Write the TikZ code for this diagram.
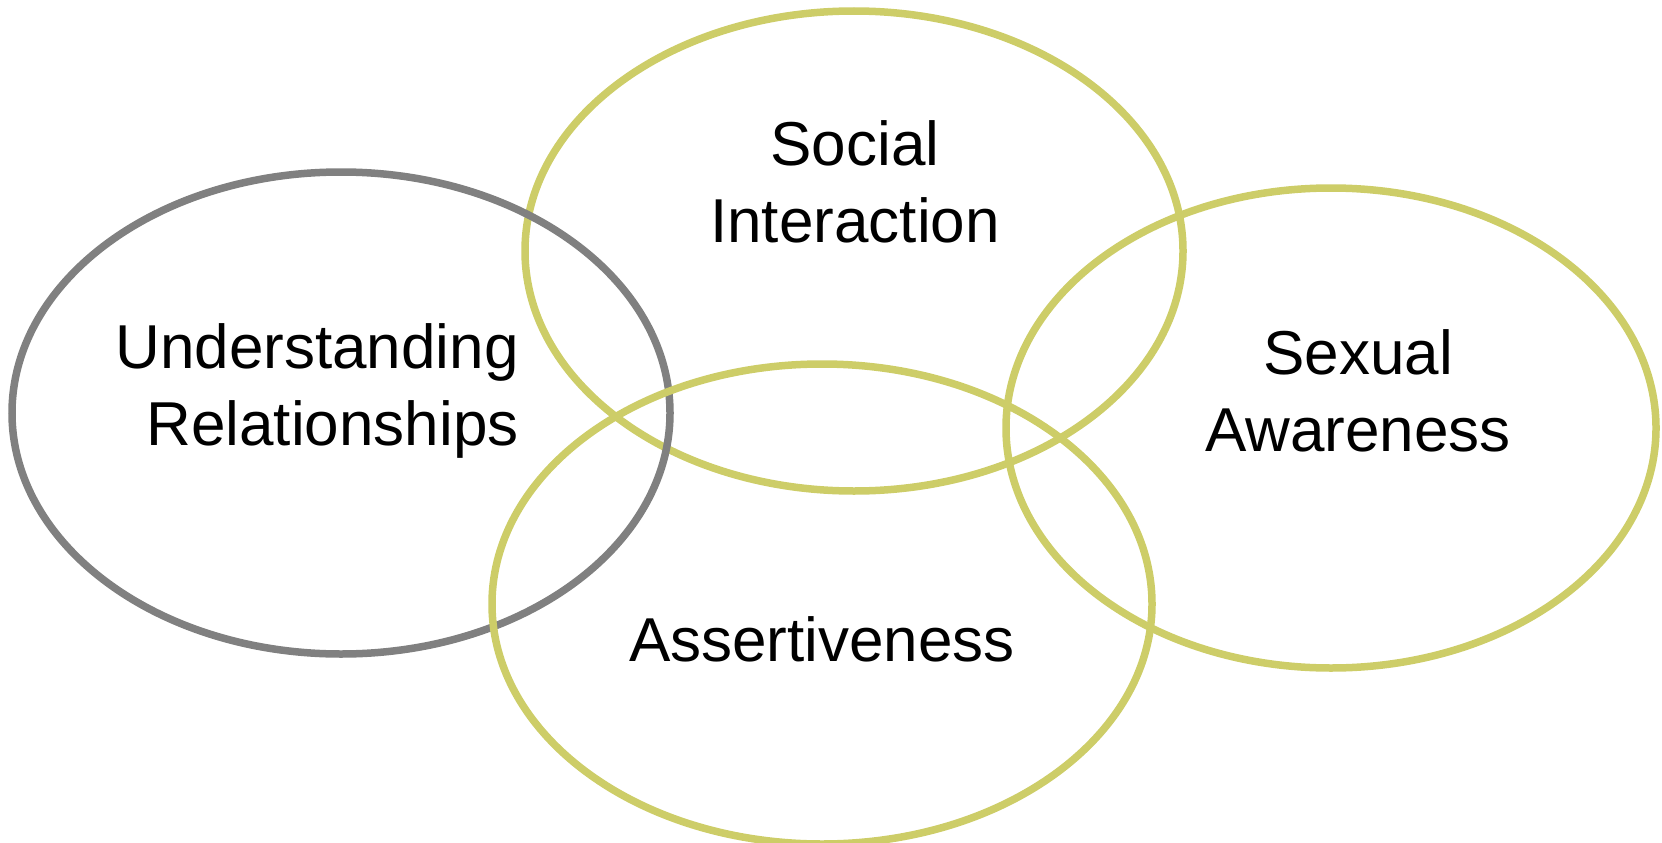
\documentclass[tikz,border=0pt]{standalone}
\usepackage{fontspec}
\setmainfont{Liberation Sans}
\definecolor{olive}{RGB}{205,205,104}
\definecolor{stone}{RGB}{128,128,128}
\tikzset{
  ring/.style={draw=olive, line width=7.5pt},
  greyring/.style={ring, draw=stone},
  label/.style={font=\fontsize{62}{77}\selectfont, align=center, inner sep=0pt}
}
\begin{document}
\begin{tikzpicture}[x=1pt, y=-1pt]
\useasboundingbox (0, 0) rectangle (1662, 843);

% rings, in the order they overlap
\draw[ring] (854, 251) ellipse (329 and 240);
\draw[greyring] (341, 413) ellipse (329 and 241);
\draw[ring] (822, 604) ellipse (330 and 240);
\draw[ring] (1331, 428) ellipse (325 and 240);

\node[label] (social) at (855, 182) {Social\\Interaction};
\node[label] (understanding) at (317, 391) {Understanding\\\hspace{.5em}Relationships};
\node[label] (sexual) at (1358, 391) {Sexual\\Awareness};
\node[label] (assert) at (822, 639) {Assertiveness};

\end{tikzpicture}
\end{document}
